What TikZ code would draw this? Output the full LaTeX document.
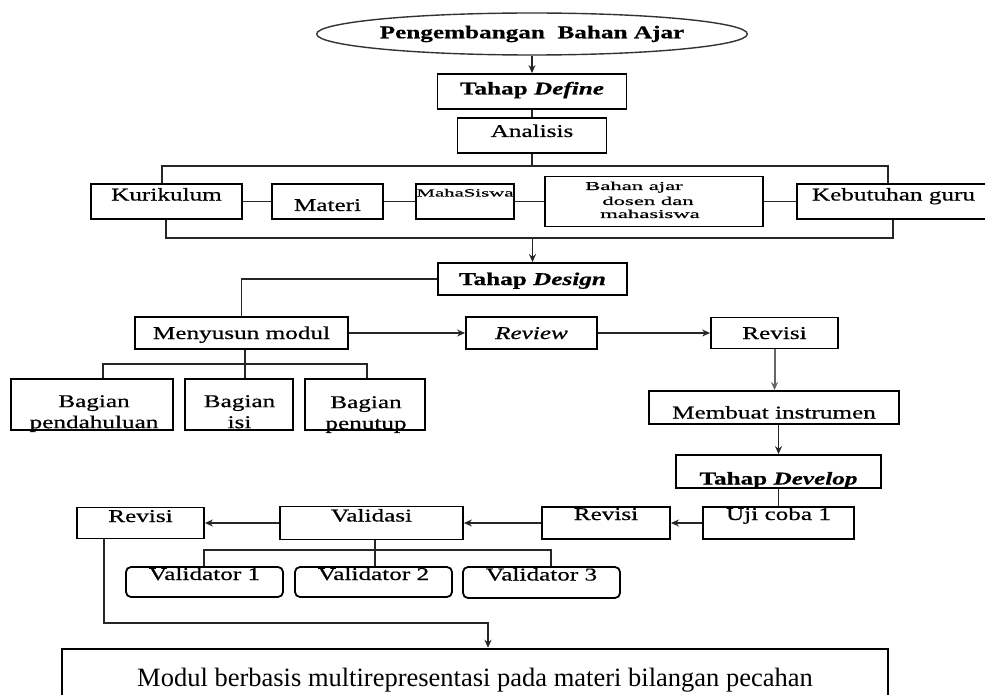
\documentclass[tikz,border=0pt]{standalone}
\usepackage{fontspec}
\usepackage{graphicx}
\setmainfont{Liberation Serif}[FakeStretch=1.4,FakeBold=0.6]
\newfontfamily\modulfont{Liberation Serif}
\usetikzlibrary{shapes.geometric}
\usetikzlibrary{arrows.meta}
\newcommand{\widetxt}[1]{\scalebox{1.35}[1]{#1}}
\tikzset{
	boxstyle/.style={rectangle,draw=black,line width=1.8pt,inner sep=0pt,text height=12pt,text depth=0pt,font=\fontsize{18}{20}\selectfont},
	valstyle/.style={boxstyle,rounded corners=5pt},
	ovalstyle/.style={ellipse,draw=black!80,line width=1.4pt,inner sep=0pt,font=\fontsize{18}{20}\selectfont\bfseries},
	textstyle/.style={inner sep=0pt,anchor=north,align=center,font=\fontsize{18}{21}\selectfont},
	smallstyle/.style={inner sep=0pt,anchor=base,font=\fontsize{12}{12}\selectfont},
	linestyle/.style={line width=1.2pt,draw=black!85},
	arrowstyle/.style={linestyle,-{Stealth[length=8pt,width=7pt]}}
}
\begin{document}
\begin{tikzpicture}[x=1pt,y=-1pt]
	\useasboundingbox (0,0) rectangle (985,695);
	% define stage
	\node[ovalstyle,minimum width=368,minimum height=42] (pab) at (532,34) {Pengembangan\ \ Bahan Ajar};
	\node[boxstyle,minimum width=189,minimum height=35,text depth=6pt] (define) at (532,91.5) {\textbf{Tahap \textit{Define}}};
	\node[boxstyle,minimum width=149,minimum height=35,text depth=9pt] (analisis) at (532,135.5) {Analisis};
	\node[boxstyle,minimum width=151,minimum height=35,text depth=14pt] (kurikulum) at (166.5,201.5) {Kurikulum};
	\node[boxstyle,minimum width=111,minimum height=35,text height=19pt] (materi) at (327.5,201.5) {Materi};
	\node[boxstyle,minimum width=98,minimum height=35,text depth=22pt,font=\fontsize{11}{11}\selectfont] (mahasiswa) at (465,201.5) {\widetxt{MahaSiswa}};
	\node[boxstyle,minimum width=218,minimum height=50] (bahan) at (654,201.5) {};
	\node[smallstyle] (bahanA) at (634,190) {\widetxt{Bahan ajar}};
	\node[smallstyle] (bahanB) at (648,205) {\widetxt{dosen dan}};
	\node[smallstyle] (bahanC) at (650,218) {\widetxt{mahasiswa}};
	\node[boxstyle,minimum width=203,minimum height=35,text depth=14pt] (kebutuhan) at (898.5,201.5) {\hspace*{-10pt}Kebutuhan guru};
	% design stage
	\node[boxstyle,minimum width=189,minimum height=32] (design) at (532.5,279) {\textbf{Tahap \textit{Design}}};
	\node[boxstyle,minimum width=213,minimum height=32] (menyusun) at (241.5,333) {Menyusun modul};
	\node[boxstyle,minimum width=131,minimum height=32] (review) at (531.5,333) {\textit{Review}};
	\node[boxstyle,minimum width=127,minimum height=31] (revisiA) at (774.5,333) {Revisi};
	\node[boxstyle,minimum width=162,minimum height=51] (bag1) at (92,404.5) {};
	\node[boxstyle,minimum width=108,minimum height=51] (bag2) at (239,404.5) {};
	\node[boxstyle,minimum width=120,minimum height=51] (bag3) at (365,404.5) {};
	\node[textstyle] (bag1txt) at (94,395) {Bagian\\pendahuluan};
	\node[textstyle] (bag2txt) at (239.5,395) {Bagian\\isi};
	\node[textstyle] (bag3txt) at (366,396) {Bagian\\penutup};
	\node[boxstyle,minimum width=250,minimum height=33,text height=22pt] (membuat) at (774,407.5) {Membuat instrumen};
	% develop stage
	\node[boxstyle,minimum width=205,minimum height=33,text height=26pt] (develop) at (778.5,471.5) {\textbf{Tahap \textit{Develop}}};
	\node[boxstyle,minimum width=151,minimum height=32,text depth=18pt] (ujicoba) at (778.5,523) {Uji coba 1};
	\node[boxstyle,minimum width=128,minimum height=32,text depth=18pt] (revisiB) at (606,523) {Revisi};
	\node[boxstyle,minimum width=183,minimum height=33,text depth=15pt] (validasi) at (371.5,523) {Validasi};
	\node[boxstyle,minimum width=127,minimum height=31,text depth=14pt] (revisiC) at (140.5,523) {Revisi};
	\node[valstyle,minimum width=157,minimum height=30,text depth=16pt] (val1) at (204.5,582) {Validator 1};
	\node[valstyle,minimum width=157,minimum height=30,text depth=16pt] (val2) at (373.5,582) {Validator 2};
	\node[valstyle,minimum width=157,minimum height=31,text depth=16pt] (val3) at (541.5,582.5) {Validator 3};
	\node[boxstyle,line width=2.5pt,minimum width=826,minimum height=56,text height=18pt,font=\modulfont\fontsize{26.5}{30}\selectfont] (modul) at (475,677) {Modul berbasis multirepresentasi pada materi bilangan pecahan};
	% connectors
	\draw[arrowstyle] (pab) -- (define);
	\draw[linestyle] (define) -- (analisis);
	\coordinate (tl) at (162,166);
	\coordinate (tr) at (888,166);
	\draw[linestyle] (analisis.south) -- (analisis.south |- tl);
	\draw[linestyle] (kurikulum.north -| tl) -- (tl) -- (tr) -- (kebutuhan.north -| tr);
	\draw[linestyle] (kurikulum) -- (materi);
	\draw[linestyle] (materi) -- (mahasiswa);
	\draw[linestyle] (mahasiswa) -- (bahan);
	\draw[linestyle] (bahan) -- (kebutuhan);
	\coordinate (bl) at (166,238);
	\coordinate (br) at (893,238);
	\draw[linestyle] (kurikulum.south -| bl) -- (bl) -- (br) -- (kebutuhan.south -| br);
	\draw[arrowstyle] (design.north |- bl) -- (design.north);
	\draw[linestyle] (design.west) -| (menyusun.north);
	\coordinate (gl) at (103,364);
	\coordinate (gm) at (245,364);
	\coordinate (gr) at (367,364);
	\draw[linestyle] (menyusun.south -| gm) -- (bag2.north -| gm);
	\draw[linestyle] (bag1.north -| gl) -- (gl) -- (gr) -- (bag3.north -| gr);
	\draw[arrowstyle] (menyusun) -- (review);
	\draw[arrowstyle] (review) -- (revisiA);
	\draw[arrowstyle,line width=2pt,draw=black!60] (revisiA) -- (revisiA |- membuat.north);
	\draw[arrowstyle] (membuat.south -| develop) -- (develop.north);
	\draw[linestyle] (develop) -- (ujicoba);
	\draw[arrowstyle] (ujicoba) -- (revisiB);
	\draw[arrowstyle] (revisiB) -- (validasi);
	\draw[arrowstyle] (validasi) -- (revisiC);
	\coordinate (vl) at (204,550);
	\coordinate (vm) at (375,550);
	\coordinate (vr) at (551,550);
	\draw[linestyle] (validasi.south -| vm) -- (val2.north -| vm);
	\draw[linestyle] (val1.north -| vl) -- (vl) -- (vr) -- (val3.north -| vr);
	\coordinate (ml) at (104,623);
	\coordinate (mr) at (488,623);
	\draw[arrowstyle] (revisiC.south -| ml) -- (ml) -- (mr) -- (modul.north -| mr);
\end{tikzpicture}
\end{document}
